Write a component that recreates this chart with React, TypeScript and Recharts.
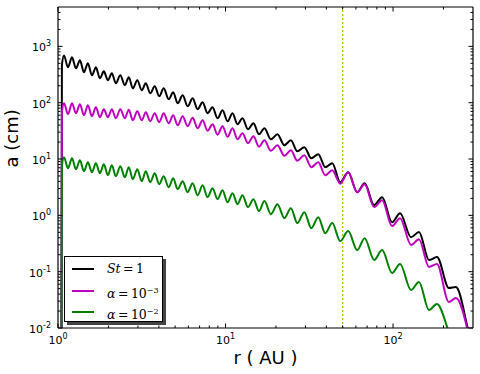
import { LineChart, Line, XAxis, YAxis, ReferenceLine, Legend } from "recharts";

// radial grid (AU), read at the peaks and troughs of the ripples
const radius = [
  1.048, 1.055,
  1.086, 1.147, 1.212, 1.28, 1.352, 1.428, 1.508, 1.594, 1.684, 1.778,
  1.878, 1.984, 2.096, 2.214, 2.355, 2.505, 2.646, 2.796, 2.973, 3.162,
  3.341, 3.553, 3.779, 4.019, 4.275, 4.578, 4.87, 5.179, 5.548, 5.941,
  6.362, 6.813, 7.296, 7.813, 8.367, 8.96, 9.597, 10.28, 11.01, 11.79,
  12.62, 13.61, 14.68, 15.83, 17.07, 18.66, 20.4, 22.45, 24.54, 26.83,
  29.53, 32.49, 35.77, 39.37, 43.35, 48.36, 53.97, 61.07, 67.68, 77.09,
  86.04, 98.64, 110.1, 128.0, 142.8, 163.8, 182.8, 215.4, 237.1,
  280, 300,
];

// grain size a (cm), St = 1
const stOne = [
  0.001, 460,
  692, 424, 638, 407, 565, 346, 500, 306, 424, 271,
  360, 250, 332, 221, 306, 204, 282, 180, 250, 166,
  221, 147, 195, 130, 180, 115, 153, 97.5, 135, 86.3,
  120, 76.4, 102, 64.9, 82.8, 52.9, 73.3, 46.8, 64.9, 41.4,
  52.9, 33.7, 43.1, 27.5, 35.2, 22.4, 27.5, 17.6, 21.5, 13.7,
  16.2, 10.3, 12.2, 7.16, 8.43, 3.88, 5.83, 2.58, 3.72, 1.52,
  2.1, 0.757, 1.09, 0.41, 0.504, 0.161, 0.182, 0.0512, 0.0533,
  0.0095, 0.004,
];

// alpha = 1e-3
const alpha3 = [
  0.001, 67,
  97.5, 62.3, 97.5, 64.9, 93.7, 59.8, 89.9, 57.4, 82.8, 55.1,
  76.4, 55.1, 76.4, 52.9, 76.4, 52.9, 74.8, 48.7, 70.4, 48.7,
  67.6, 46.8, 64.9, 44.9, 64.9, 43.1, 59.8, 39.7, 57.4, 38.2,
  54.0, 35.2, 48.7, 31.8, 41.4, 27.0, 38.2, 24.8, 35.2, 22.4,
  28.7, 19.1, 25.4, 16.5, 21.5, 14.0, 17.6, 11.4, 14.3, 9.33,
  11.7, 7.16, 8.77, 5.16, 6.33, 3.65, 5.83, 2.58, 3.57, 1.4,
  1.86, 0.644, 0.891, 0.297, 0.378, 0.121, 0.137, 0.0289, 0.034,
  0.0085, 0.003,
];

// alpha = 1e-2
const alpha2 = [
  0.001, 7.5,
  10.8, 6.87, 10.3, 6.59, 9.52, 6.08, 8.77, 5.83, 8.43, 5.6,
  8.09, 5.16, 7.76, 4.95, 7.45, 4.75, 7.16, 4.38, 6.59, 4.04,
  6.08, 3.88, 5.6, 3.57, 4.95, 3.16, 4.57, 2.92, 4.04, 2.58,
  3.72, 2.28, 3.43, 2.1, 3.03, 1.94, 2.8, 1.71, 2.48, 1.58,
  2.28, 1.4, 1.94, 1.19, 1.79, 1.05, 1.58, 0.891, 1.34, 0.728,
  1.14, 0.593, 0.929, 0.483, 0.728, 0.349, 0.525, 0.242, 0.394, 0.161,
  0.242, 0.0944, 0.137, 0.0472, 0.0655, 0.0209, 0.0267, 0.0085, 0.004,
  0.0015, 0.001,
];

const xTicks = [1, 2, 3, 4, 5, 6, 7, 8, 9, 10, 20, 30, 40, 50, 60, 70, 80, 90, 100, 200];
const yTicks = [
  0.01, 0.02, 0.03, 0.04, 0.05, 0.06, 0.07, 0.08, 0.09,
  0.1, 0.2, 0.3, 0.4, 0.5, 0.6, 0.7, 0.8, 0.9,
  1, 2, 3, 4, 5, 6, 7, 8, 9,
  10, 20, 30, 40, 50, 60, 70, 80, 90,
  100, 200, 300, 400, 500, 600, 700, 800, 900,
  1000, 2000, 3000, 4000,
];
const markerR = 50;

const rows = radius.map((r, i) => ({ r, st: stOne[i], a3: alpha3[i], a2: alpha2[i] }));

const FONT = "DejaVu Sans";
const isDecade = (v: number) => Math.abs(Math.log10(v) - Math.round(Math.log10(v))) < 1e-6;
const expOf = (v: number) => String(Math.round(Math.log10(v)));

const BottomTick = ({ x, y, payload }: any) => {
  const major = isDecade(payload.value);
  return (
    <g>
      <line x1={x} y1={y} x2={x} y2={y - (major ? 4.5 : 2.5)} stroke="#000" strokeWidth={1} />
      {major && (
        <text x={x} y={y + 16} textAnchor="middle" fontSize={11} fontFamily={FONT} fill="#000">
          10<tspan dy={-5} fontSize={8}>{expOf(payload.value)}</tspan>
        </text>
      )}
    </g>
  );
};

const TopTick = ({ x, y, payload }: any) => {
  const major = isDecade(payload.value);
  return <line x1={x} y1={y} x2={x} y2={y + (major ? 4.5 : 2.5)} stroke="#000" strokeWidth={1} />;
};

const LeftTick = ({ x, y, payload }: any) => {
  const major = isDecade(payload.value);
  return (
    <g>
      <line x1={x} y1={y} x2={x + (major ? 4.5 : 2.5)} y2={y} stroke="#000" strokeWidth={1} />
      {major && (
        <text x={x - 7} y={y + 5} textAnchor="end" fontSize={11} fontFamily={FONT} fill="#000">
          10<tspan dy={-5} fontSize={8}>{expOf(payload.value)}</tspan>
        </text>
      )}
    </g>
  );
};

const RightTick = ({ x, y, payload }: any) => {
  const major = isDecade(payload.value);
  return <line x1={x} y1={y} x2={x - (major ? 4.5 : 2.5)} y2={y} stroke="#000" strokeWidth={1} />;
};

const legendItems = [
  { color: "#000000", label: <><i>St</i>&thinsp;=&thinsp;1</> },
  { color: "#bf00bf", label: <><i>α</i>&thinsp;=&thinsp;10<sup style={{ fontSize: 8 }}>−3</sup></> },
  { color: "#008000", label: <><i>α</i>&thinsp;=&thinsp;10<sup style={{ fontSize: 8 }}>−2</sup></> },
];

const LegendBox = () => (
  <div
    style={{
      width: 97,
      height: 64,
      border: "1px solid #000",
      background: "#fff",
      boxShadow: "3px 3px 0 #444",
      position: "relative",
      fontFamily: "DejaVu Serif",
      fontSize: 12.5,
    }}
  >
    {legendItems.map((it, i) => (
      <div key={i} style={{ position: "absolute", left: 0, top: 3 + i * 21.5, height: 18, width: 97 }}>
        <div style={{ position: "absolute", left: 7, top: 8, width: 22, height: 2, background: it.color }} />
        <div style={{ position: "absolute", left: 42, top: 0, lineHeight: "18px", whiteSpace: "nowrap" }}>{it.label}</div>
      </div>
    ))}
  </div>
);

export default function App() {
  return (
    <div style={{ position: "absolute", left: 0, top: 0 }}>
      <LineChart width={480} height={374} data={rows} margin={{ top: 6, right: 6, bottom: 0, left: 0 }}>
        <XAxis
          dataKey="r"
          type="number"
          scale="log"
          domain={[1, 300]}
          allowDataOverflow
          ticks={xTicks}
          interval={0}
          tickSize={0}
          tickMargin={0}
          tickLine={false}
          tick={BottomTick}
          axisLine={{ stroke: "#000", strokeWidth: 1.2 }}
          height={46}
          label={{ value: "r ( AU )", position: "insideBottom", offset: 10, fontSize: 18, fontFamily: FONT, fill: "#000" }}
        />
        <XAxis
          xAxisId="top"
          orientation="top"
          dataKey="r"
          type="number"
          scale="log"
          domain={[1, 300]}
          allowDataOverflow
          ticks={xTicks}
          interval={0}
          tickSize={0}
          tickMargin={0}
          tickLine={false}
          tick={TopTick}
          axisLine={{ stroke: "#000", strokeWidth: 1.2 }}
          height={1}
        />
        <YAxis
          type="number"
          scale="log"
          domain={[0.01, 5000]}
          allowDataOverflow
          ticks={yTicks}
          interval={0}
          tickSize={0}
          tickMargin={0}
          tickLine={false}
          tick={LeftTick}
          axisLine={{ stroke: "#000", strokeWidth: 1.2 }}
          width={58}
          label={{ value: "a (cm)", angle: -90, position: "insideLeft", offset: 12, fontSize: 18, fontFamily: FONT, fill: "#000" }}
        />
        <YAxis
          yAxisId="right"
          orientation="right"
          type="number"
          scale="log"
          domain={[0.01, 5000]}
          allowDataOverflow
          ticks={yTicks}
          interval={0}
          tickSize={0}
          tickMargin={0}
          tickLine={false}
          tick={RightTick}
          axisLine={{ stroke: "#000", strokeWidth: 1.2 }}
          width={1}
        />
        <ReferenceLine x={markerR} stroke="#bfbf00" strokeWidth={1.5} strokeDasharray="2 2" />
        <Line dataKey="st" stroke="#000000" strokeWidth={2} dot={false} type="monotone" isAnimationActive={false} />
        <Line dataKey="a3" stroke="#bf00bf" strokeWidth={2} dot={false} type="monotone" isAnimationActive={false} />
        <Line dataKey="a2" stroke="#008000" strokeWidth={2} dot={false} type="monotone" isAnimationActive={false} />
        <Legend
          layout="horizontal"
          verticalAlign="middle"
          align="center"
          content={LegendBox}
          wrapperStyle={{ left: 64, top: 256, width: 99, height: 66 }}
        />
      </LineChart>
    </div>
  );
}
